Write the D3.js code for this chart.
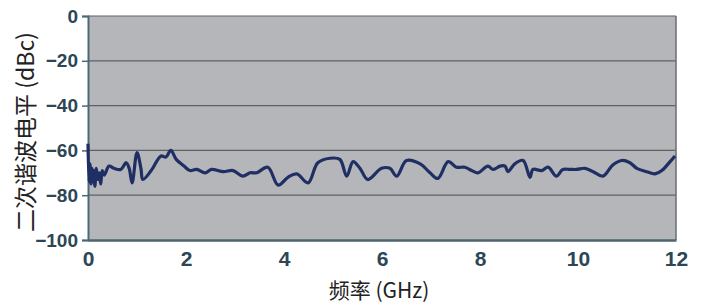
<!DOCTYPE html>
<html><head><meta charset="utf-8">
<script src="https://cdn.jsdelivr.net/npm/d3@7"></script>
<style>
html,body{margin:0;padding:0;background:#fff;}
svg{display:block;}
</style></head>
<body>
<svg id="c" width="703" height="305"></svg>
<script>
const freqGHz = [0,0.02,0.04,0.06,0.08,0.10,0.12,0.14,0.17,0.20,0.23,0.26,0.29,0.33,0.43,0.53,0.67,0.78,0.84,0.90,1.00,1.08,1.12,1.29,1.49,1.59,1.69,1.80,1.96,2.08,2.22,2.39,2.52,2.76,2.96,3.16,3.31,3.44,3.67,3.88,4.08,4.26,4.49,4.69,4.94,5.14,5.28,5.41,5.55,5.71,5.99,6.16,6.30,6.50,6.78,6.98,7.14,7.35,7.52,7.69,7.83,7.96,8.16,8.27,8.41,8.51,8.57,8.71,8.88,9.02,9.08,9.26,9.39,9.56,9.69,9.84,9.97,10.14,10.31,10.51,10.71,10.89,11.06,11.20,11.40,11.57,11.71,11.88,11.98];
const levelDBc = [-57,-74,-66,-75,-68,-74,-69,-76,-68,-73,-70,-75,-69,-71,-67,-68,-68.5,-65.5,-68,-74.5,-61,-68,-73,-69,-62.5,-63,-60,-64,-67,-69,-68.5,-70,-68.5,-69.5,-69,-71.5,-70,-70,-67.5,-75.5,-72,-70.5,-74.5,-65.5,-63.5,-64,-71.5,-65,-68,-73,-68,-68,-71.5,-64.5,-66,-70,-72.5,-65,-67.5,-67.5,-69,-70,-67,-68.5,-67,-67,-69.5,-66,-64.5,-72,-68.5,-69,-67.5,-71.5,-68.5,-68.5,-68.5,-68,-69.5,-71.5,-66.5,-64.5,-65.5,-68,-69.5,-70.5,-69,-65,-62.5];
const xTicks = [0,2,4,6,8,10,12];
const yTicks = [0,-20,-40,-60,-80,-100];
const xTitle = "频率 (GHz)";
const yTitle = "二次谐波电平 (dBc)";

const svg = d3.select("#c");
const L=88,R=676,T=16,B=240;
const x = d3.scaleLinear().domain([0,12]).range([L,R]);
const y = d3.scaleLinear().domain([-100,0]).range([B,T]);

svg.append("rect").attr("x",L).attr("y",T).attr("width",R-L).attr("height",B-T).attr("fill","#b4b6ba");

svg.append("g").selectAll("line").data(yTicks.filter(d=>d>-100)).join("line")
 .attr("x1",L).attr("x2",R).attr("y1",d=>y(d)).attr("y2",d=>y(d))
 .attr("stroke","#5e6264").attr("stroke-width",1.2);
svg.append("line").attr("x1",R).attr("x2",R).attr("y1",T).attr("y2",B).attr("stroke","#6a6e70").attr("stroke-width",1.5);

const yAxis = d3.axisLeft(y).tickValues(yTicks).tickSize(6).tickPadding(4).tickFormat(d=>d===0?"0":"\u2212"+Math.abs(d));
const gy = svg.append("g").attr("transform",`translate(${L},0)`).call(yAxis);
gy.select(".domain").attr("stroke","#486a78").attr("stroke-width",2);
gy.selectAll(".tick line").attr("stroke","#486a78").attr("stroke-width",1.5);

const xAxis = d3.axisBottom(x).tickValues(xTicks).tickSize(0).tickPadding(11).tickFormat(d3.format("d"));
const gx = svg.append("g").attr("transform",`translate(0,${B})`).call(xAxis);
gx.select(".domain").attr("stroke","#4e6470").attr("stroke-width",2.5);

gy.attr("font-family","'Liberation Sans',Arial,sans-serif").attr("font-size",19).attr("font-weight","bold");
gx.attr("font-family","'Liberation Sans',Arial,sans-serif").attr("font-size",21).attr("font-weight","bold");
svg.selectAll(".tick text").attr("fill","#2c4656");

const line = d3.line().x((d,i)=>x(freqGHz[i])).y(d=>y(d)).curve(d3.curveCatmullRom.alpha(0.5));
svg.append("path").datum(levelDBc).attr("d",line).attr("fill","none")
 .attr("stroke","#1f2f63").attr("stroke-width",3.2).attr("stroke-linejoin","round");

svg.append("text").attr("x",379).attr("y",298).attr("text-anchor","middle")
 .attr("font-family","'Noto Sans CJK SC',sans-serif").attr("font-size",21).attr("fill","#222").text(xTitle);
svg.append("text").attr("transform","translate(34,132) rotate(-90)").attr("text-anchor","middle")
 .attr("font-family","'Noto Sans CJK SC',sans-serif").attr("font-size",23).attr("fill","#222").text(yTitle);
</script>
</body></html>
